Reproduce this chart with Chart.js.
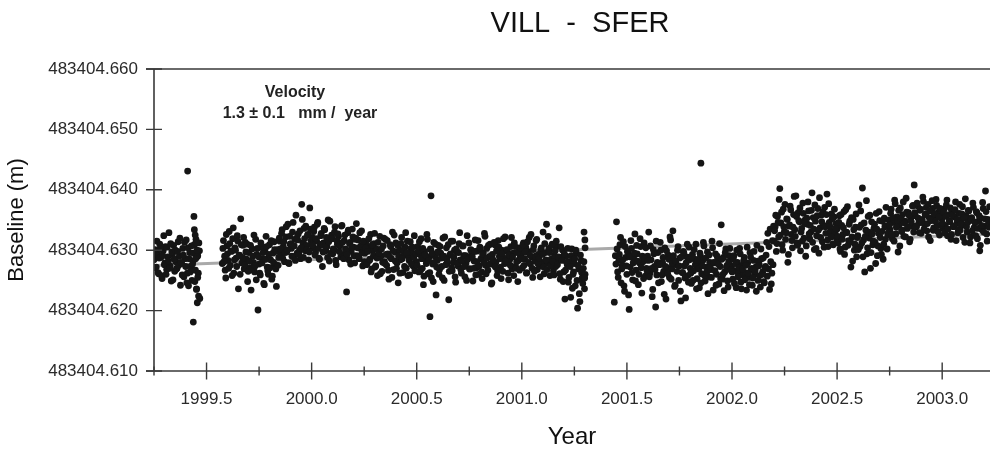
<!DOCTYPE html>
<html>
<head>
<meta charset="utf-8">
<title>VILL - SFER baseline</title>
<script src="https://cdn.jsdelivr.net/npm/chart.js@4/dist/chart.umd.min.js"></script>
<style>
  html, body { margin: 0; padding: 0; background: #ffffff; overflow: hidden; }
  #wrap { width: 994px; height: 454px; }
</style>
</head>
<body>
<div id="wrap"><canvas id="chart" width="994" height="454"></canvas></div>
<script>
// ---- Baseline VILL - SFER: GPS solutions ----
const STATION_PAIR = 'VILL  -  SFER';
const BASE_M = 483404.600;          // baseline values below are given in mm above this length
const STEP_YR = 2 / 365.25;         // spacing of consecutive solutions of one session
const VELOCITY_MM_YR = 1.3;
const VELOCITY_ERR_MM_YR = 0.1;
const TREND_EPOCH = 1999.25;        // reference epoch of the fitted trend
const TREND_VALUE_MM = 27.45;       // fitted value at that epoch

const X_MIN = 1999.25, X_MAX = 2003.2275;
const X_TICKS = [1999.25, 1999.5, 1999.75, 2000.0, 2000.25, 2000.5, 2000.75, 2001.0, 2001.25,
                 2001.5, 2001.75, 2002.0, 2002.25, 2002.5, 2002.75, 2003.0];
const X_LABELS = ['', '1999.5', '', '2000.0', '', '2000.5', '', '2001.0', '',
                  '2001.5', '', '2002.0', '', '2002.5', '', '2003.0'];
const Y_TICKS = [483404.610, 483404.620, 483404.630, 483404.640, 483404.650, 483404.660];
const Y_LABELS = ['483404.610', '483404.620', '483404.630', '483404.640', '483404.650', '483404.660'];

// first epoch of each run of solutions (one entry per run)
const runStart = [1999.250, 1999.575, 2000.002, 2000.253, 2000.499, 2000.997,
                  2001.445, 2001.998, 2002.200, 2002.500, 2002.998];

// session A solutions (mm above BASE_M)
const obs1999a = [28.4, 30.1, 27.2, 29.5, 26.1, 31.0, 28.8, 25.3, 29.9, 27.6,
  30.6, 26.8, 28.9, 32.9, 27.4, 24.9, 29.3, 30.8, 26.5, 28.1,
  27.0, 31.4, 29.0, 24.2, 27.8, 30.3, 25.6, 28.6, 31.7, 26.2,
  24.1, 29.6, 27.3, 25.0, 28.2, 30.9, 26.7, 23.6, 29.1, 31.2];
const obs1999b = [27.8, 31.6, 29.0, 25.4, 30.7, 28.3, 33.1, 27.5, 29.8, 31.9,
  26.2, 30.4, 28.7, 32.4, 23.6, 29.2, 35.2, 27.9, 30.8, 26.9,
  31.3, 28.5, 24.8,
  29.6, 27.1, 23.4, 30.2, 28.0, 26.4, 31.8, 29.3, 20.1, 27.7,
  25.9, 30.5, 28.6, 24.5, 29.9, 32.3, 27.2, 26.0, 30.9, 28.4,
  25.2, 29.5, 31.4, 27.6, 24.0, 30.1, 28.8,
  31.5, 29.2, 33.4, 30.6, 28.1, 32.2, 29.7, 34.3, 27.8, 31.0,
  30.3, 33.0, 28.9, 31.8, 35.8, 29.5, 32.7, 30.0, 28.6, 37.6,
  31.2, 33.6, 29.9, 30.8, 32.5, 28.4, 37.0, 31.6];
const obs2000a = [32.1, 30.4, 33.8, 29.6, 31.5, 34.6, 28.7, 30.9, 32.8, 27.3,
  31.2, 33.4, 29.9, 30.6, 35.0, 28.2, 31.8, 32.5, 29.4, 30.1,
  33.9, 27.6, 31.0, 32.3, 30.7, 28.9, 34.1, 29.3, 31.6, 30.2,
  23.1, 32.9, 28.4, 31.3, 29.8, 33.5, 30.5, 27.9, 32.0, 29.1,
  31.7, 28.6, 30.3, 33.2, 27.4, 30.8];
const obs2000b = [29.5, 31.4, 27.8, 30.6, 28.3, 32.6, 26.9, 29.9, 31.1, 27.2,
  30.2, 25.8, 28.8, 32.3, 29.0, 26.5, 30.7, 28.1, 31.8, 27.5,
  29.4, 25.2, 30.9, 28.6, 33.0, 26.8, 29.7, 31.2, 27.9, 24.6,
  30.0, 28.4, 32.1, 26.3, 29.2, 30.5, 27.0, 31.5, 28.9, 25.9,
  30.3, 29.6, 27.4, 32.4, 28.0];
const obs2000c = [28.1, 30.6, 26.4, 29.3, 31.9, 27.0, 24.3, 29.8, 28.5, 32.6,
  26.1, 28.9, 30.2, 25.4, 27.7, 31.3, 29.0, 22.6, 28.3, 30.8,
  26.8, 29.5, 27.3, 32.0, 25.0, 28.7, 30.4, 27.9, 21.8, 29.2,
  31.5, 26.6, 28.0, 30.0, 24.7, 29.7, 27.4, 31.1, 28.4, 26.2,
  30.7, 29.1, 25.6, 27.8, 32.4, 28.8, 26.9, 30.1, 29.4, 24.9,
  28.2, 31.7, 27.1, 29.9, 26.0, 30.5, 28.6, 25.3, 29.6, 32.8,
  27.5, 30.3, 26.7, 28.9, 31.0, 24.4, 29.3, 27.6, 30.9, 28.0,
  25.8, 31.6, 29.0, 27.2, 30.0, 26.5, 28.7, 32.2, 27.9, 29.8,
  25.1, 28.4, 30.6, 26.9, 29.5, 31.2, 27.3, 28.1, 24.8, 30.4,
  28.8];
const obs2001a = [29.4, 27.1, 31.2, 28.6, 30.5, 26.3, 29.8, 32.1, 27.7, 28.9,
  25.5, 30.7, 28.2, 31.6, 26.8, 29.3, 27.4, 30.1, 28.0, 33.0,
  26.1, 29.6, 34.3, 27.9, 30.3, 25.8, 28.5, 31.0, 26.6, 29.1,
  27.3, 30.6, 28.4, 33.7, 25.2, 28.8, 30.0, 26.4, 21.9, 29.0,
  27.6, 24.7, 28.1, 22.2, 30.2, 26.0, 27.8, 24.1, 29.5, 20.4,
  26.9, 21.5, 28.3, 25.4, 27.0, 23.6];
const obs2001b = [29.1, 34.7, 26.4, 28.3, 30.9, 24.6, 27.5, 31.4, 23.2, 28.8,
  26.0, 29.7, 20.2, 27.2, 30.3, 25.1, 28.6, 32.7, 26.7, 29.4,
  24.3, 27.9, 30.6, 22.9, 28.1, 31.2, 25.7, 27.0,
  29.0, 33.0, 26.2, 28.4, 22.3, 30.1, 27.3, 20.6, 25.9, 29.6,
  27.8, 31.3, 24.8, 28.0, 26.5, 30.4, 21.9, 27.1, 29.2, 25.5,
  31.7, 26.9, 33.2, 28.2, 24.2, 27.6, 30.0, 25.0, 28.7, 21.6,
  26.3, 29.8, 27.4, 22.1, 28.9, 25.8, 30.5,
  27.0, 24.5, 29.3, 26.6, 28.5, 31.0, 25.3, 27.7, 23.8, 29.0,
  26.1, 28.3, 30.7, 24.9, 27.2, 29.7, 25.6, 28.0, 26.8, 31.5,
  23.4, 27.9, 29.4, 26.0, 28.6, 24.4, 27.3, 34.2, 25.2, 28.8,
  26.4, 30.2, 27.5, 23.9, 29.1, 26.9];
const obs2002a = [27.4, 25.2, 29.1, 26.6, 23.8, 28.0, 26.1, 30.3, 24.7, 27.5,
  25.9, 28.8, 26.3, 23.4, 27.9, 25.5, 29.6, 26.8, 24.2, 28.3,
  26.0, 27.2, 30.8, 25.0, 27.7, 23.9, 28.6, 26.4, 24.8, 27.1,
  29.2, 25.7, 26.9, 23.5, 28.1, 26.2, 27.6];
const obs2002b = [31.5, 33.9, 29.8, 35.6, 32.2, 40.2, 34.5, 30.9, 36.8, 33.1,
  31.8, 35.2, 28.0, 34.0, 37.3, 32.6, 30.4, 35.9, 33.4, 39.0,
  31.2, 36.2, 34.7, 29.9, 33.6, 37.8, 32.0, 35.0, 30.7, 34.3,
  36.5, 31.9, 33.0, 39.5, 35.4, 30.1, 34.8, 32.4, 36.9, 29.5,
  33.7, 35.8, 31.4, 34.1, 37.1, 32.8, 39.3, 30.6, 34.6, 33.2,
  36.0, 31.0, 35.5, 32.9, 34.4];
const obs2002c = [33.5, 31.2, 35.7, 29.8, 34.1, 32.6, 36.4, 30.5, 33.0, 37.2,
  31.6, 34.8, 27.2, 32.2, 35.1, 30.0, 33.8, 28.9,
  32.4, 37.5, 30.6, 34.2, 40.3, 31.7, 26.4, 33.3, 29.4, 35.6,
  32.0, 27.0, 34.7, 30.9, 33.6, 31.3, 36.1, 29.1, 32.8, 34.9,
  30.3, 33.1, 28.5, 35.3, 31.8, 34.0, 32.5,
  35.0, 33.4, 36.8, 31.9, 34.6, 38.3, 32.7, 35.5, 29.7, 34.2,
  37.0, 33.1, 35.9, 32.3, 34.8, 38.6, 33.6, 36.2, 31.4, 35.3,
  34.0, 37.4,
  40.8, 35.7, 33.9, 37.3, 34.5, 36.6, 32.8, 35.1, 38.1, 34.3,
  36.0, 33.2, 37.6, 35.4, 31.6, 34.9, 36.9, 33.7, 35.8, 38.4,
  34.1, 36.3, 32.5, 35.6];
const obs2003 = [35.2, 33.6, 36.8, 34.1, 37.5, 32.4, 35.9, 34.7, 31.8, 36.3,
  33.9, 35.5, 38.0, 34.4, 32.9, 36.1, 33.3, 35.0, 37.2, 34.2,
  31.3, 35.7, 33.0, 36.6, 34.9, 32.2, 35.4, 37.8, 33.7, 34.6,
  36.4, 31.9, 34.8, 29.9, 35.3, 33.4, 36.9, 34.0, 39.8, 32.7,
  35.1, 33.8];

// session B solutions, one day after each session A solution (mm above BASE_M)
const ses1999a = [27.1, 29.4, 31.5, 26.3, 28.7, 30.2, 25.8, 29.1, 32.4, 27.9,
  26.0, 30.5, 28.2, 27.0, 31.1, 29.7, 25.1, 28.5, 30.0, 26.9,
  29.8, 27.5, 32.0, 28.0, 25.9, 29.2, 31.3, 27.3, 24.6, 30.4,
  28.6, 26.4, 30.7, 27.7, 29.5, 24.8, 31.8, 28.9, 26.2, 29.9];
const ses1999b = [30.3, 28.1, 26.7, 32.6, 29.4, 27.0, 31.1, 29.9, 25.8, 33.7,
  28.4, 30.0, 27.3, 31.5, 29.1, 26.0, 30.9, 28.8, 32.1, 27.6,
  29.7, 31.0, 26.5,
  28.2, 30.8, 26.8, 29.0, 32.5, 27.4, 25.1, 30.3, 28.9, 26.2,
  31.2, 27.9, 29.6, 24.3, 28.5, 30.6, 26.6, 29.3, 27.1, 31.6,
  25.7, 28.0, 30.1, 26.9, 29.8, 27.5, 32.0,
  30.2, 32.8, 28.7, 31.4, 29.6, 33.9, 30.0, 27.9, 32.3, 31.1,
  29.0, 34.6, 30.7, 28.3, 32.0, 31.7, 29.3, 33.2, 30.4, 35.1,
  28.8, 31.9, 34.0, 30.1, 32.6, 29.7, 33.5, 30.9];
const ses2000a = [30.8, 33.1, 29.2, 31.9, 34.3, 30.3, 28.5, 32.4, 31.0, 29.7,
  33.6, 30.6, 32.1, 28.8, 31.4, 34.8, 29.5, 31.9, 30.2, 33.0,
  28.3, 31.6, 32.7, 29.8, 30.9, 34.0, 31.3, 28.6, 32.5, 30.0,
  29.3, 33.3, 31.1, 27.7, 30.5, 32.2, 29.1, 31.8, 34.4, 30.4,
  28.9, 32.9, 30.7, 29.6, 31.5, 28.1];
const ses2000b = [30.4, 27.6, 29.8, 31.9, 28.5, 26.4, 30.9, 29.1, 32.8, 27.4,
  28.7, 31.3, 29.5, 26.1, 30.2, 28.0, 32.0, 27.8, 29.3, 31.6,
  26.7, 28.9, 30.6, 25.5, 29.9, 32.5, 28.2, 27.0, 30.8, 29.0,
  26.2, 31.1, 28.6, 30.0, 27.3, 32.9, 29.6, 25.8, 28.3, 31.4,
  27.7, 30.5, 28.8, 26.6, 29.4];
const ses2000c = [27.5, 29.9, 31.4, 26.7, 28.6, 30.3, 25.7, 29.2, 27.8, 31.8,
  28.3, 26.3, 30.1, 29.5, 24.8, 28.0, 31.0, 27.2, 29.7, 26.0,
  30.6, 28.7, 25.4, 29.0, 32.2, 27.6, 28.4, 30.9, 26.5, 29.4,
  27.1, 31.5, 28.8, 25.6, 30.2, 27.9, 29.6, 32.9, 26.8, 28.2,
  30.7, 27.3, 29.1, 25.0, 28.5, 31.2, 26.9, 30.0, 28.9, 27.0,
  29.8, 25.9, 28.1, 31.6, 27.4, 30.4, 26.4, 29.3, 28.0, 32.3,
  26.1, 28.7, 30.8, 27.7, 29.0, 24.6, 28.4, 31.3, 27.2, 29.9,
  26.6, 30.5, 28.6, 25.3, 29.5, 31.9, 27.8, 28.2, 30.1, 26.2,
  29.2, 27.5, 32.1, 28.9, 25.8, 30.6, 27.0, 29.6, 28.3, 26.7,
  30.3];
const ses2001a = [28.6, 30.9, 27.5, 29.7, 26.2, 31.4, 28.0, 29.2, 32.6, 27.0,
  30.1, 26.5, 29.0, 31.8, 27.8, 28.7, 25.6, 30.4, 29.3, 27.2,
  31.1, 28.4, 26.8, 32.3, 29.6, 27.4, 30.8, 28.1, 25.9, 29.9,
  31.5, 27.6, 28.9, 26.1, 30.6, 28.3, 24.8, 29.4, 26.7, 28.0,
  30.3, 25.5, 27.3, 29.1, 23.7, 26.4, 28.6, 30.0, 25.0, 27.5,
  22.8, 29.2, 26.3, 24.5, 28.1, 26.0];
const ses2001b = [27.7, 30.2, 25.5, 29.3, 32.1, 26.9, 28.4, 24.1, 30.6, 27.4,
  29.8, 22.6, 28.9, 31.6, 26.3, 27.9, 29.5, 24.9, 30.8, 28.2,
  26.0, 31.9, 27.1, 29.0, 25.3, 28.6, 30.4, 26.6,
  28.3, 25.6, 30.7, 27.0, 23.5, 29.4, 26.8, 31.5, 28.0, 24.6,
  27.6, 30.0, 25.9, 28.8, 22.7, 27.3, 29.9, 26.1, 28.5, 32.2,
  25.2, 27.8, 29.1, 24.0, 28.2, 26.5, 30.6, 27.4, 23.2, 28.9,
  26.3, 29.6, 25.4, 27.9, 31.0, 24.7, 28.4,
  26.2, 28.9, 25.0, 30.1, 27.6, 23.6, 28.3, 26.9, 29.5, 24.6,
  27.4, 31.3, 25.8, 28.7, 26.4, 22.8, 29.2, 27.1, 25.5, 30.4,
  28.0, 26.6, 24.2, 29.0, 27.7, 31.1, 25.3, 28.5, 26.0, 23.3,
  29.6, 27.2, 24.9, 28.1, 30.3, 26.7];
const ses2002a = [26.4, 28.6, 24.5, 27.8, 30.0, 25.6, 27.1, 29.4, 23.6, 26.9,
  28.3, 25.1, 27.5, 30.5, 26.2, 24.3, 28.9, 27.0, 25.4, 29.8,
  26.6, 23.2, 28.2, 27.4, 25.8, 30.2, 26.0, 28.7, 24.6, 27.3,
  31.3, 32.8, 30.6, 33.5, 24.4, 31.6, 34.0];
const ses2002b = [33.2, 35.8, 31.1, 34.6, 38.4, 32.5, 36.3, 30.0, 33.9, 37.6,
  32.9, 35.1, 29.3, 34.2, 36.7, 31.6, 33.8, 38.9, 32.3, 35.6,
  30.8, 34.9, 37.0, 33.0, 31.5, 36.1, 34.4, 29.0, 35.3, 38.0,
  32.7, 34.1, 36.6, 31.3, 33.5, 37.5, 30.3, 35.7, 33.3, 38.7,
  32.1, 34.7, 36.4, 30.5, 33.9, 35.9, 31.7, 37.7, 34.0, 32.2,
  35.2, 30.9, 36.8, 33.6, 31.9];
const ses2002c = [32.3, 34.6, 30.2, 35.9, 31.8, 33.7, 29.3, 36.7, 32.9, 30.8,
  34.3, 31.4, 35.4, 28.2, 33.4, 31.0, 36.0, 32.1,
  30.1, 33.8, 36.5, 31.2, 28.9, 34.5, 32.3, 38.2, 30.4, 33.0,
  35.8, 29.6, 32.7, 31.5, 34.3, 27.8, 33.5, 30.7, 36.4, 32.1,
  29.3, 34.8, 31.0, 33.9, 37.1, 30.2, 32.9,
  34.2, 36.1, 32.6, 35.4, 31.5, 37.7, 33.8, 34.9, 36.6, 30.7,
  35.2, 33.3, 38.0, 34.5, 32.2, 36.3, 33.9, 35.8, 31.8, 34.7,
  37.3, 33.0,
  36.2, 34.0, 37.8, 35.3, 32.9, 36.8, 34.6, 38.8, 33.5, 35.9,
  37.1, 34.4, 32.2, 36.5, 35.0, 38.2, 33.3, 36.0, 34.8, 37.4,
  33.1, 35.5, 36.9, 34.2];
const ses2003 = [34.5, 36.3, 32.9, 35.6, 38.3, 33.5, 34.9, 37.0, 32.6, 35.8,
  34.0, 36.7, 31.6, 35.1, 33.4, 37.6, 34.3, 36.0, 32.1, 35.4,
  38.5, 33.9, 34.6, 36.5, 31.2, 35.0, 33.2, 37.1, 34.7, 32.4,
  36.2, 33.6, 35.7, 30.8, 34.1, 37.9, 33.0, 35.2, 36.4, 31.5,
  34.8, 37.2];

// extra solutions on days with several runs, and isolated outliers
const extraEpoch = [1999.410, 1999.440, 1999.442, 1999.446, 1999.450, 1999.455, 1999.448,
                    1999.458, 1999.452, 1999.462, 1999.456, 1999.437, 1999.468,
                    2000.568, 2000.563, 2001.296, 2001.300, 2001.301, 2001.299,
                    2001.440, 2001.852];
const extraValue = [43.1, 35.6, 33.4, 32.5, 31.2, 30.0, 28.6,
                    25.5, 23.5, 22.4, 21.3, 18.1, 22.0,
                    39.0, 19.0, 33.0, 31.7, 30.4, 25.4,
                    21.4, 44.4];

// ---- assemble points ----
const sessionA = [obs1999a, obs1999b, obs2000a, obs2000b, obs2000c, obs2001a,
                  obs2001b, obs2002a, obs2002b, obs2002c, obs2003];
const sessionB = [ses1999a, ses1999b, ses2000a, ses2000b, ses2000c, ses2001a,
                  ses2001b, ses2002a, ses2002b, ses2002c, ses2003];
const points = [];
sessionA.forEach((vals, r) => {
  vals.forEach((mm, i) => points.push({ x: runStart[r] + i * STEP_YR, y: BASE_M + mm / 1000 }));
});
sessionB.forEach((vals, r) => {
  vals.forEach((mm, i) => points.push({ x: runStart[r] + (i + 0.5) * STEP_YR, y: BASE_M + mm / 1000 }));
});
extraEpoch.forEach((t, i) => points.push({ x: t, y: BASE_M + extraValue[i] / 1000 }));

const trendAt = t => BASE_M + (TREND_VALUE_MM + VELOCITY_MM_YR * (t - TREND_EPOCH)) / 1000;
const trend = [{ x: X_MIN, y: trendAt(X_MIN) }, { x: X_MAX, y: trendAt(X_MAX) }];

const FONT = '"Liberation Sans", Arial, Helvetica, sans-serif';
const AXIS_COLOR = '#3a3a3a';

// frame, crossing tick marks, title and velocity note
const decorations = {
  id: 'decorations',
  afterDraw(chart) {
    const { ctx, chartArea: a, scales } = chart;
    ctx.save();
    ctx.strokeStyle = AXIS_COLOR;
    ctx.lineWidth = 1.6;
    ctx.beginPath();
    ctx.moveTo(a.left - 8, a.top); ctx.lineTo(a.right, a.top);
    ctx.moveTo(a.left - 8, a.bottom); ctx.lineTo(a.right, a.bottom);
    ctx.moveTo(a.left, a.top); ctx.lineTo(a.left, a.bottom);
    ctx.stroke();

    ctx.lineWidth = 1.4;
    ctx.beginPath();
    scales.y.ticks.forEach(t => {
      const py = scales.y.getPixelForValue(t.value);
      ctx.moveTo(a.left - 8, py); ctx.lineTo(a.left + 8, py);
    });
    scales.x.ticks.forEach((t, i) => {
      const px = scales.x.getPixelForValue(t.value);
      const half = X_LABELS[i] ? 8.5 : 4.5;
      ctx.moveTo(px, a.bottom - half); ctx.lineTo(px, a.bottom + half);
    });
    ctx.stroke();

    ctx.fillStyle = '#111111';
    ctx.textAlign = 'center';
    ctx.textBaseline = 'middle';
    ctx.font = '29px ' + FONT;
    ctx.fillText(STATION_PAIR, 580, 24);

    ctx.fillStyle = '#222222';
    ctx.font = 'bold 16px ' + FONT;
    ctx.fillText('Velocity', 295, 93);
    ctx.fillText(VELOCITY_MM_YR.toFixed(1) + ' \u00B1 ' + VELOCITY_ERR_MM_YR.toFixed(1) + '   mm /  year', 300, 114);
    ctx.restore();
  }
};

new Chart(document.getElementById('chart'), {
  data: {
    datasets: [
      {
        type: 'scatter',
        data: points,
        backgroundColor: '#151515',
        borderWidth: 0,
        pointRadius: 3.4,
        order: 1
      },
      {
        type: 'line',
        data: trend,
        borderColor: '#a9a9a9',
        borderWidth: 3,
        pointRadius: 0,
        fill: false,
        order: 2
      }
    ]
  },
  options: {
    responsive: false,
    animation: false,
    devicePixelRatio: 1,
    layout: { padding: { top: 69, right: 0, left: 0, bottom: 0 } },
    plugins: { legend: { display: false }, tooltip: { enabled: false }, title: { display: false } },
    scales: {
      x: {
        type: 'linear',
        position: 'bottom',
        min: X_MIN,
        max: X_MAX,
        grid: { display: false, drawTicks: false },
        border: { display: false },
        afterBuildTicks: s => { s.ticks = X_TICKS.map(v => ({ value: v })); },
        afterFit: s => { s.height = 83; },
        ticks: {
          autoSkip: false,
          maxRotation: 0,
          padding: 18,
          color: '#2a2a2a',
          font: { family: FONT, size: 17 },
          callback: (v, i) => X_LABELS[i]
        },
        title: {
          display: true,
          text: 'Year',
          color: '#111111',
          font: { family: FONT, size: 24 },
          padding: { top: 0, bottom: 2 }
        }
      },
      y: {
        type: 'linear',
        position: 'left',
        min: Y_TICKS[0],
        max: Y_TICKS[Y_TICKS.length - 1],
        grid: { display: false, drawTicks: false },
        border: { display: false },
        afterBuildTicks: s => { s.ticks = Y_TICKS.map(v => ({ value: v })); },
        afterFit: s => { s.width = 154; },
        ticks: {
          padding: 16,
          color: '#2a2a2a',
          font: { family: FONT, size: 17 },
          callback: (v, i) => Y_LABELS[i]
        },
        title: {
          display: true,
          text: 'Baseline (m)',
          color: '#111111',
          font: { family: FONT, size: 22 },
          padding: { top: 4, bottom: 0 }
        }
      }
    }
  },
  plugins: [decorations]
});
</script>
</body>
</html>
